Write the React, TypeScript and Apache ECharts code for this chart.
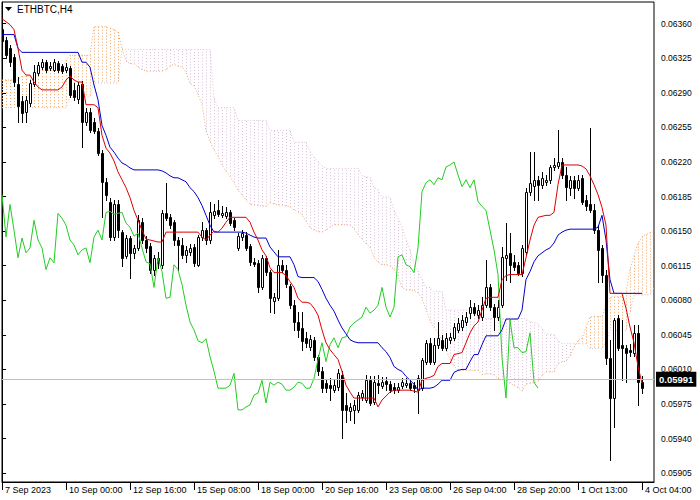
import React, { useEffect, useRef } from "react";
import * as echarts from "echarts";

const TITLE = "ETHBTC,H4";
const LAST_PRICE = 0.05991;
const CHIKOU_SHIFT = 26;
const X_MAX = 163;
const Y_MIN = 0.05896;
const Y_MAX = 0.06382;
const Y_TICKS = [0.05905, 0.0594, 0.05975, 0.0601, 0.06045, 0.0608, 0.06115, 0.0615, 0.06185, 0.0622, 0.06255, 0.0629, 0.06325, 0.0636];
const X_TICK_BARS = [0, 16, 32, 48, 64, 80, 96, 112, 128, 144, 160];
const X_TICK_LABELS = ["7 Sep 2023", "10 Sep 00:00", "12 Sep 16:00", "15 Sep 08:00", "18 Sep 00:00", "20 Sep 16:00", "23 Sep 08:00", "26 Sep 04:00", "28 Sep 20:00", "1 Oct 13:00", "4 Oct 04:00"];

const OPEN = [
  0.06355, 0.06344, 0.06335, 0.06326, 0.06299, 0.06282, 0.06271, 0.0628, 0.06299, 0.0631,
  0.06316, 0.06321, 0.06315, 0.06313, 0.0632, 0.06317, 0.06313, 0.06315, 0.06293, 0.06284,
  0.06299, 0.06261, 0.06271, 0.06261, 0.06251, 0.06229, 0.062, 0.06179, 0.06144, 0.06177,
  0.06149, 0.06125, 0.06143, 0.06128, 0.06133, 0.06159, 0.06141, 0.06135, 0.06111, 0.06123,
  0.06116, 0.06168, 0.06164, 0.06159, 0.06141, 0.06136, 0.06126, 0.06129, 0.06134, 0.06116,
  0.06144, 0.06151, 0.06141, 0.06166, 0.06171, 0.06166, 0.06165, 0.06169, 0.06161, 0.06133,
  0.06144, 0.06146, 0.06135, 0.06119, 0.06118, 0.06093, 0.06123, 0.06109, 0.06079, 0.06082,
  0.06116, 0.06111, 0.06094, 0.06075, 0.06058, 0.06052, 0.06042, 0.06033, 0.0604, 0.06023,
  0.06008, 0.05996, 0.05994, 0.05989, 0.05992, 0.06004, 0.05974, 0.05968, 0.05969, 0.05969,
  0.05982, 0.05979, 0.05999, 0.05977, 0.05996, 0.05993, 0.05998, 0.05995, 0.05992, 0.05989,
  0.05993, 0.05994, 0.05996, 0.05994, 0.05989, 0.05991, 0.06018, 0.06037, 0.06018, 0.06035,
  0.0604, 0.06032, 0.0604, 0.06042, 0.0605, 0.06053, 0.06058, 0.06067, 0.06073, 0.06065,
  0.06063, 0.06075, 0.06093, 0.06073, 0.06063, 0.06075, 0.06123, 0.06128, 0.06119, 0.06116,
  0.06108, 0.06129, 0.0619, 0.06196, 0.06202, 0.06197, 0.062, 0.06202, 0.06215, 0.06216,
  0.0622, 0.06207, 0.06194, 0.06202, 0.06194, 0.06204, 0.06182, 0.06177, 0.06171, 0.06151,
  0.06133, 0.06106, 0.06022, 0.05981, 0.06062, 0.06035, 0.06032, 0.0603, 0.06027, 0.06047,
  0.05997,
];
const HIGH = [
  0.06358, 0.06347, 0.06338, 0.06329, 0.06306, 0.06287, 0.06287, 0.06303, 0.06318, 0.06321,
  0.06324, 0.06323, 0.06321, 0.06324, 0.06322, 0.06319, 0.0632, 0.06317, 0.063, 0.06301,
  0.06302, 0.06275, 0.06275, 0.06265, 0.06254, 0.06232, 0.06204, 0.06184, 0.06182, 0.06182,
  0.06151, 0.06146, 0.06145, 0.06136, 0.06166, 0.06163, 0.06145, 0.06138, 0.06126, 0.06129,
  0.06171, 0.06199, 0.06167, 0.06161, 0.06144, 0.06143, 0.06135, 0.06137, 0.06137, 0.06146,
  0.06159, 0.06153, 0.0618, 0.06177, 0.06182, 0.06175, 0.06174, 0.06171, 0.06163, 0.06148,
  0.06151, 0.06149, 0.06137, 0.06123, 0.06121, 0.06126, 0.06125, 0.06111, 0.06087, 0.06131,
  0.06121, 0.06116, 0.06096, 0.0608, 0.06068, 0.06068, 0.06048, 0.06045, 0.06043, 0.06025,
  0.06012, 0.05999, 0.06001, 0.05999, 0.0601, 0.06008, 0.05986, 0.05976, 0.05979, 0.05987,
  0.05989, 0.06004, 0.06003, 0.06003, 0.06004, 0.06002, 0.06002, 0.05998, 0.05996, 0.05996,
  0.06001, 0.06001, 0.05999, 0.05997, 0.06004, 0.06022, 0.0604, 0.06042, 0.06042, 0.06058,
  0.06045, 0.06047, 0.06047, 0.06057, 0.06062, 0.06065, 0.06068, 0.0608, 0.06077, 0.06075,
  0.06083, 0.06121, 0.06096, 0.06076, 0.0608, 0.06134, 0.06158, 0.06148, 0.06126, 0.06119,
  0.06136, 0.06194, 0.0623, 0.0623, 0.06206, 0.0621, 0.06207, 0.06217, 0.06224, 0.06252,
  0.06224, 0.06215, 0.06206, 0.06206, 0.06207, 0.06207, 0.06187, 0.06254, 0.06177, 0.06156,
  0.06136, 0.06111, 0.0604, 0.06062, 0.06065, 0.0606, 0.06035, 0.06036, 0.06055, 0.06055,
  0.06003,
];
const LOW = [
  0.0634, 0.06325, 0.06317, 0.06297, 0.06261, 0.06261, 0.0626, 0.06277, 0.06297, 0.06308,
  0.06314, 0.06311, 0.06313, 0.06312, 0.06311, 0.0631, 0.06311, 0.06286, 0.06283, 0.0628,
  0.06235, 0.06257, 0.0625, 0.06249, 0.06227, 0.06164, 0.06182, 0.06141, 0.06141, 0.06144,
  0.06115, 0.06123, 0.06103, 0.06123, 0.06131, 0.06138, 0.06129, 0.06108, 0.06106, 0.06113,
  0.06113, 0.06161, 0.06153, 0.06136, 0.06111, 0.06123, 0.06119, 0.06126, 0.06115, 0.06115,
  0.06141, 0.06137, 0.06138, 0.06163, 0.06165, 0.06164, 0.06163, 0.06156, 0.06151, 0.06131,
  0.06141, 0.06131, 0.06116, 0.06115, 0.06088, 0.06091, 0.06106, 0.06068, 0.06067, 0.0608,
  0.06109, 0.06093, 0.06072, 0.0605, 0.06043, 0.0603, 0.06033, 0.0603, 0.0602, 0.06004,
  0.05987, 0.05987, 0.05979, 0.05987, 0.05989, 0.05941, 0.05957, 0.05959, 0.05956, 0.05967,
  0.05979, 0.05977, 0.05974, 0.05975, 0.05986, 0.05991, 0.05989, 0.05987, 0.05986, 0.05987,
  0.05991, 0.05992, 0.05989, 0.05987, 0.05966, 0.05989, 0.06015, 0.06015, 0.06015, 0.06032,
  0.0603, 0.0603, 0.06037, 0.0604, 0.06048, 0.0605, 0.06055, 0.06062, 0.06065, 0.06062,
  0.0606, 0.06073, 0.0607, 0.0605, 0.0606, 0.06073, 0.06101, 0.06099, 0.06111, 0.06106,
  0.06105, 0.06126, 0.06187, 0.06182, 0.06182, 0.06194, 0.06197, 0.06199, 0.06212, 0.06214,
  0.06204, 0.06182, 0.06187, 0.06184, 0.06192, 0.06177, 0.06171, 0.06169, 0.06148, 0.06098,
  0.06098, 0.06015, 0.05918, 0.05952, 0.0603, 0.05999, 0.05997, 0.06024, 0.06024, 0.05974,
  0.05986,
];
const CLOSE = [
  0.06343, 0.06328, 0.06321, 0.06301, 0.06277, 0.0627, 0.06283, 0.063, 0.06311, 0.06318,
  0.06321, 0.06313, 0.06317, 0.06321, 0.06313, 0.06312, 0.06316, 0.06288, 0.06286, 0.06298,
  0.0626, 0.06271, 0.06252, 0.06251, 0.06229, 0.062, 0.06187, 0.06144, 0.06177, 0.06151,
  0.06123, 0.06143, 0.06128, 0.06133, 0.06161, 0.06141, 0.06133, 0.06111, 0.06123, 0.06118,
  0.06168, 0.06163, 0.06156, 0.06141, 0.06136, 0.06126, 0.06131, 0.06133, 0.06118, 0.06144,
  0.06151, 0.06141, 0.06169, 0.0617, 0.06167, 0.06168, 0.06169, 0.06158, 0.06154, 0.06145,
  0.06148, 0.06133, 0.06119, 0.06117, 0.06093, 0.06123, 0.06109, 0.06082, 0.06083, 0.06116,
  0.06111, 0.06096, 0.06075, 0.06058, 0.0605, 0.06039, 0.06037, 0.06041, 0.06023, 0.06008,
  0.05991, 0.05991, 0.05991, 0.05994, 0.06006, 0.05969, 0.05969, 0.05972, 0.05974, 0.05984,
  0.05986, 0.05999, 0.05976, 0.05997, 0.05994, 0.05997, 0.05995, 0.05989, 0.05989, 0.05992,
  0.05997, 0.05996, 0.05991, 0.05991, 0.06001, 0.0602, 0.06037, 0.06018, 0.06035, 0.06042,
  0.06032, 0.06042, 0.06043, 0.06053, 0.06057, 0.0606, 0.06063, 0.06073, 0.06067, 0.0607,
  0.06075, 0.06093, 0.06073, 0.06063, 0.06073, 0.06124, 0.06126, 0.06116, 0.06114, 0.06108,
  0.06133, 0.0619, 0.06199, 0.06202, 0.06197, 0.06204, 0.06202, 0.06215, 0.06217, 0.0622,
  0.06207, 0.06195, 0.06202, 0.06194, 0.06202, 0.0618, 0.06175, 0.06171, 0.06151, 0.06131,
  0.06106, 0.06022, 0.05981, 0.0606, 0.06032, 0.06032, 0.06027, 0.06028, 0.06047, 0.05997,
  0.05991,
];
const TENKAN = [
  0.06365, 0.06362, 0.06359, 0.06354, 0.06335, 0.06313, 0.06308, 0.06308, 0.06301, 0.06296,
  0.06293, 0.06293, 0.06293, 0.06293, 0.06293, 0.06296, 0.06303, 0.06307, 0.06303, 0.06301,
  0.06301, 0.06278, 0.06278, 0.06278, 0.06275, 0.06247, 0.06234, 0.06229, 0.06221, 0.0621,
  0.06202, 0.06194, 0.06184, 0.06171, 0.06161, 0.06151, 0.06142, 0.06141, 0.0614, 0.06139,
  0.06139, 0.06149, 0.06149, 0.06149, 0.06149, 0.06149, 0.06149, 0.06149, 0.06149, 0.06149,
  0.06144, 0.06141, 0.06146, 0.0615, 0.06149, 0.06153, 0.06159, 0.06164, 0.06164, 0.06164,
  0.06164, 0.06164, 0.06159, 0.06149, 0.06141, 0.06131, 0.06125, 0.06113, 0.06108, 0.06108,
  0.06108, 0.06105, 0.06099, 0.06093, 0.06082, 0.06078, 0.06078, 0.06077, 0.06072, 0.06065,
  0.0605, 0.06037, 0.0603, 0.06025, 0.0602, 0.06008, 0.05994, 0.05987, 0.05981, 0.05981,
  0.05981, 0.05981, 0.05981, 0.05981, 0.05972, 0.05979, 0.05983, 0.05987, 0.05989, 0.05989,
  0.05989, 0.05989, 0.05989, 0.05988, 0.05987, 0.05999, 0.06001, 0.06002, 0.06004, 0.06013,
  0.06016, 0.06016, 0.06016, 0.06025, 0.06026, 0.06027, 0.06037, 0.06047, 0.06054, 0.06058,
  0.0607, 0.06082, 0.06083, 0.06083, 0.06083, 0.06101, 0.06105, 0.06106, 0.06106, 0.06106,
  0.06106, 0.06123, 0.06141, 0.06156, 0.06164, 0.06165, 0.06166, 0.06166, 0.06169, 0.06197,
  0.06217, 0.06217, 0.06217, 0.06217, 0.06217, 0.06216, 0.06213, 0.06206, 0.06197, 0.06187,
  0.06174, 0.06156, 0.06087, 0.06087, 0.06087, 0.06087, 0.06072, 0.06053, 0.06037, 0.06013,
  0.05996,
];
const KIJUN = [
  0.06349, 0.06349, 0.06349, 0.06349, 0.06335, 0.06331, 0.06331, 0.06331, 0.06331, 0.06331,
  0.06331, 0.06331, 0.06331, 0.06331, 0.06331, 0.06331, 0.06331, 0.06331, 0.06331, 0.06331,
  0.06321, 0.06321, 0.06316, 0.06298, 0.06283, 0.06257, 0.06247, 0.06235, 0.0623, 0.06224,
  0.06219, 0.06217, 0.06214, 0.06212, 0.06212, 0.06212, 0.06212, 0.06212, 0.06212, 0.06212,
  0.06211, 0.06209, 0.06206, 0.06204, 0.06204, 0.06202, 0.062, 0.06194, 0.0619, 0.06184,
  0.06176, 0.06166, 0.06156, 0.06149, 0.06149, 0.06149, 0.06149, 0.06149, 0.06149, 0.06149,
  0.06149, 0.06148, 0.06146, 0.06144, 0.06143, 0.06143, 0.06143, 0.06134, 0.06129, 0.06124,
  0.06124, 0.06124, 0.06124, 0.06116, 0.06104, 0.06103, 0.06103, 0.06103, 0.06103, 0.06099,
  0.06091, 0.06082, 0.06075, 0.06069, 0.0606, 0.06052, 0.06046, 0.0604, 0.06038, 0.06037,
  0.06037, 0.06037, 0.06037, 0.06037, 0.06037, 0.06032, 0.06028, 0.06022, 0.06013, 0.0601,
  0.06008, 0.06003, 0.05999, 0.05995, 0.05989, 0.05991, 0.05991, 0.05991, 0.05992, 0.05995,
  0.05999, 0.05999, 0.05999, 0.06007, 0.06009, 0.0601, 0.0601, 0.06018, 0.06025, 0.06025,
  0.06035, 0.06044, 0.06044, 0.06044, 0.06044, 0.0605, 0.06061, 0.06061, 0.06061, 0.06061,
  0.0607, 0.06101, 0.06109, 0.06119, 0.06125, 0.06128, 0.06131, 0.06133, 0.06138, 0.06146,
  0.06149, 0.06151, 0.06152, 0.06152, 0.06152, 0.06152, 0.06152, 0.06152, 0.06152, 0.06154,
  0.06166, 0.06141, 0.06101, 0.06087, 0.06087, 0.06087, 0.06087, 0.06087, 0.06087, 0.06087,
  0.06087,
];
const SPAN_A = [
  0.06303, 0.06303, 0.06303, 0.06303, 0.06303, 0.06307, 0.06307, 0.06307, 0.06307, 0.06313,
  0.06313, 0.06313, 0.06313, 0.06313, 0.06313, 0.06313, 0.06323, 0.06328, 0.06328, 0.06328,
  0.06328, 0.06328, 0.06328, 0.06357, 0.06357, 0.06357, 0.06357, 0.063555, 0.06354, 0.063515,
  0.06335, 0.06322, 0.063195, 0.063195, 0.06316, 0.063135, 0.06312, 0.06312, 0.06312, 0.06312,
  0.06312, 0.063135, 0.06317, 0.06319, 0.06317, 0.06316, 0.06311, 0.062995, 0.06297, 0.06288,
  0.06279, 0.06252, 0.062405, 0.06232, 0.062255, 0.06217, 0.062105, 0.062055, 0.06199, 0.061915,
  0.061865, 0.061815, 0.06177, 0.061765, 0.06176, 0.061755, 0.06175, 0.06179, 0.061775, 0.061765,
  0.061765, 0.061755, 0.061745, 0.061715, 0.061695, 0.061665, 0.0616, 0.061535, 0.06151, 0.061495,
  0.06149, 0.06151, 0.06154, 0.061565, 0.061565, 0.061565, 0.061565, 0.06156, 0.061525, 0.061465,
  0.06142, 0.06137, 0.06134, 0.061235, 0.061185, 0.06116, 0.06116, 0.061145, 0.061115, 0.061045,
  0.06093, 0.060905, 0.060905, 0.0609, 0.060875, 0.06082, 0.060705, 0.060595, 0.060525, 0.06047,
  0.0604, 0.0603, 0.0602, 0.060135, 0.060095, 0.06009, 0.06009, 0.06009, 0.06009, 0.06009,
  0.060045, 0.060055, 0.060055, 0.060045, 0.06001, 0.059995, 0.059985, 0.05996, 0.05994, 0.059915,
  0.05988, 0.05995, 0.05996, 0.059965, 0.05998, 0.06004, 0.060075, 0.060075, 0.060075, 0.06016,
  0.060175, 0.060185, 0.060235, 0.060325, 0.060395, 0.060415, 0.060525, 0.06063, 0.060635, 0.060635,
  0.060635, 0.060755, 0.06083, 0.060835, 0.060835, 0.060835, 0.06088, 0.06112, 0.06125, 0.061375,
  0.061445, 0.061465, 0.061485, 0.061495,
];
const SPAN_B = [
  0.06275, 0.06275, 0.06275, 0.06275, 0.06275, 0.06275, 0.06275, 0.06275, 0.06275, 0.06275,
  0.06275, 0.06275, 0.06275, 0.06275, 0.06275, 0.06275, 0.06275, 0.06286, 0.06286, 0.06286,
  0.06286, 0.06286, 0.06286, 0.063, 0.063, 0.063, 0.063, 0.063, 0.063, 0.063,
  0.06334, 0.06334, 0.06334, 0.06334, 0.06334, 0.06334, 0.06334, 0.06334, 0.06334, 0.06334,
  0.06334, 0.06334, 0.06334, 0.06334, 0.06334, 0.06334, 0.06334, 0.06334, 0.06334, 0.06334,
  0.06334, 0.06334, 0.06334, 0.06285, 0.06275, 0.06275, 0.06275, 0.06275, 0.06275, 0.06262,
  0.06262, 0.06262, 0.06262, 0.06262, 0.06262, 0.06262, 0.06262, 0.06252, 0.06252, 0.06252,
  0.06252, 0.06252, 0.06252, 0.0624, 0.0624, 0.0624, 0.0624, 0.062305, 0.06225, 0.062205,
  0.06216, 0.062135, 0.062135, 0.062135, 0.062135, 0.062135, 0.062135, 0.062135, 0.062135, 0.062135,
  0.06206, 0.06205, 0.06204, 0.06194, 0.06192, 0.061845, 0.061845, 0.061845, 0.06171, 0.061625,
  0.06154, 0.06142, 0.06131, 0.06117, 0.061095, 0.061015, 0.06093, 0.06093, 0.06089, 0.06089,
  0.06089, 0.0607, 0.0607, 0.0607, 0.0607, 0.0607, 0.0607, 0.0607, 0.0607, 0.060615,
  0.060615, 0.060615, 0.060615, 0.060615, 0.060615, 0.060615, 0.060615, 0.060615, 0.060615, 0.060615,
  0.060615, 0.060615, 0.06058, 0.060575, 0.06056, 0.06052, 0.06046, 0.06046, 0.06045, 0.06039,
  0.06036, 0.06036, 0.06036, 0.06036, 0.06036, 0.06036, 0.06036, 0.06031, 0.06031, 0.06031,
  0.06031, 0.060375, 0.060495, 0.060495, 0.060495, 0.060495, 0.060495, 0.060675, 0.060855, 0.060855,
  0.060855, 0.060855, 0.060855, 0.06093,
];

const FONT = "Liberation Sans";
const SANDY = "#F4A460";
const THISTLE = "#D8BFD8";

export default function App() {
  const ref = useRef<HTMLDivElement>(null);
  useEffect(() => {
    document.body.style.margin = "0";
    if (!ref.current) return;
    const chart = echarts.init(ref.current, undefined, { renderer: "svg" });

    const candleData = OPEN.map((o, i) => [i, o, CLOSE[i], LOW[i], HIGH[i]]);
    const cloudData = SPAN_A.map((a, i) => [i, a, SPAN_B[i]]);
    const pairs = (arr: number[]) => arr.map((v, i) => [i, v]);
    const chikou = CLOSE.slice(CHIKOU_SHIFT).map((v, i) => [i, v]);

    const option: any = {
      animation: false,
      backgroundColor: "#ffffff",
      grid: { left: 2, right: 46, top: 2, bottom: 18, show: true, borderColor: "#000", borderWidth: 1, backgroundColor: "transparent" },
      xAxis: {
        type: "value",
        min: 0,
        max: X_MAX,
        axisLine: { show: true, onZero: false, lineStyle: { color: "#000", width: 1 } },
        axisTick: { show: true, customValues: X_TICK_BARS, length: 8, lineStyle: { color: "#000" } },
        axisLabel: {
          show: true,
          customValues: X_TICK_BARS,
          formatter: (v: number) => {
            const k = X_TICK_BARS.indexOf(Math.round(v));
            return k >= 0 ? X_TICK_LABELS[k] : "";
          },
          align: "left",
          padding: [0, 0, 0, 3],
          margin: 3,
          color: "#000",
          fontSize: 9,
          fontFamily: FONT,
        },
        splitLine: { show: false },
      },
      yAxis: {
        type: "value",
        position: "right",
        min: Y_MIN,
        max: Y_MAX,
        scale: true,
        axisLine: { show: true, lineStyle: { color: "#000", width: 1 } },
        axisTick: { show: true, customValues: Y_TICKS, length: 4, lineStyle: { color: "#000" } },
        axisLabel: {
          show: true,
          customValues: Y_TICKS,
          formatter: (v: number) => v.toFixed(5),
          margin: 7,
          color: "#000",
          fontSize: 8.5,
          fontFamily: FONT,
        },
        splitLine: { show: false },
      },
      graphic: [
        { type: "polygon", shape: { points: [[5, 7], [12, 7], [8.5, 11]] }, style: { fill: "#000" }, z: 100 },
        { type: "text", x: 17, y: 4, style: { text: TITLE, fontSize: 10, fontFamily: FONT, fill: "#000" }, z: 100 },
      ],
      series: [
        {
          type: "custom",
          name: "cloud",
          clip: true,
          data: cloudData,
          encode: { x: 0, y: [1, 2] },
          renderItem: (params: any, api: any) => {
            const i = api.value(0);
            const a = api.value(1);
            const b = api.value(2);
            const pa = api.coord([i, a]);
            const pb = api.coord([i, b]);
            const x = Math.round(pa[0]) + 0.5;
            return {
              type: "line",
              shape: { x1: x, y1: pa[1], x2: x, y2: pb[1] },
              style: { stroke: a >= b ? SANDY : THISTLE, lineWidth: 1, lineDash: [1, 2] },
            };
          },
          z: 1,
        },
        {
          type: "line",
          name: "Senkou A",
          data: pairs(SPAN_A),
          showSymbol: false,
          lineStyle: { color: SANDY, width: 1, type: [1, 2] },
          z: 1,
          markLine: {
            silent: true,
            symbol: ["none", "none"],
            data: [{ yAxis: LAST_PRICE }],
            lineStyle: { color: "#c0c0c0", width: 1, type: "solid" },
            label: {
              show: true,
              position: "end",
              distance: 2,
              formatter: () => LAST_PRICE.toFixed(5),
              color: "#fff",
              backgroundColor: "#000",
              padding: [3, 3, 2, 3],
              fontSize: 9.5,
              fontWeight: "bold",
              fontFamily: FONT,
            },
          },
        },
        {
          type: "line",
          name: "Senkou B",
          data: pairs(SPAN_B),
          showSymbol: false,
          lineStyle: { color: THISTLE, width: 1, type: [1, 2] },
          z: 1,
        },
        {
          type: "custom",
          name: "candles",
          clip: true,
          data: candleData,
          encode: { x: 0, y: [1, 2, 3, 4] },
          renderItem: (params: any, api: any) => {
            const i = api.value(0);
            const o = api.value(1);
            const c = api.value(2);
            const po = api.coord([i, o]);
            const pc = api.coord([i, c]);
            const pl = api.coord([i, api.value(3)]);
            const ph = api.coord([i, api.value(4)]);
            const x = Math.round(po[0]) + 0.5;
            const top = Math.round(Math.min(po[1], pc[1])) + 0.5;
            const bot = Math.round(Math.max(po[1], pc[1])) + 0.5;
            const bull = c >= o;
            return {
              type: "group",
              children: [
                { type: "line", shape: { x1: x, y1: Math.round(ph[1]), x2: x, y2: Math.round(pl[1]) + 1 }, style: { stroke: "#000", lineWidth: 1 } },
                { type: "rect", shape: { x: x - 1, y: top, width: 2, height: Math.max(bot - top, 0.01) }, style: { fill: bull ? "#fff" : "#000", stroke: "#000", lineWidth: 1 } },
              ],
            };
          },
          z: 2,
        },
        { type: "line", name: "Chikou", data: chikou, showSymbol: false, lineStyle: { color: "#22cc22", width: 1 }, z: 3 },
        { type: "line", name: "Kijun", data: pairs(KIJUN), showSymbol: false, lineStyle: { color: "#0000cc", width: 1 }, z: 3 },
        { type: "line", name: "Tenkan", data: pairs(TENKAN), showSymbol: false, lineStyle: { color: "#dd0000", width: 1 }, z: 3 },
      ],
    };
    chart.setOption(option);
    return () => chart.dispose();
  }, []);
  return <div ref={ref} style={{ width: 700, height: 500 }} />;
}
